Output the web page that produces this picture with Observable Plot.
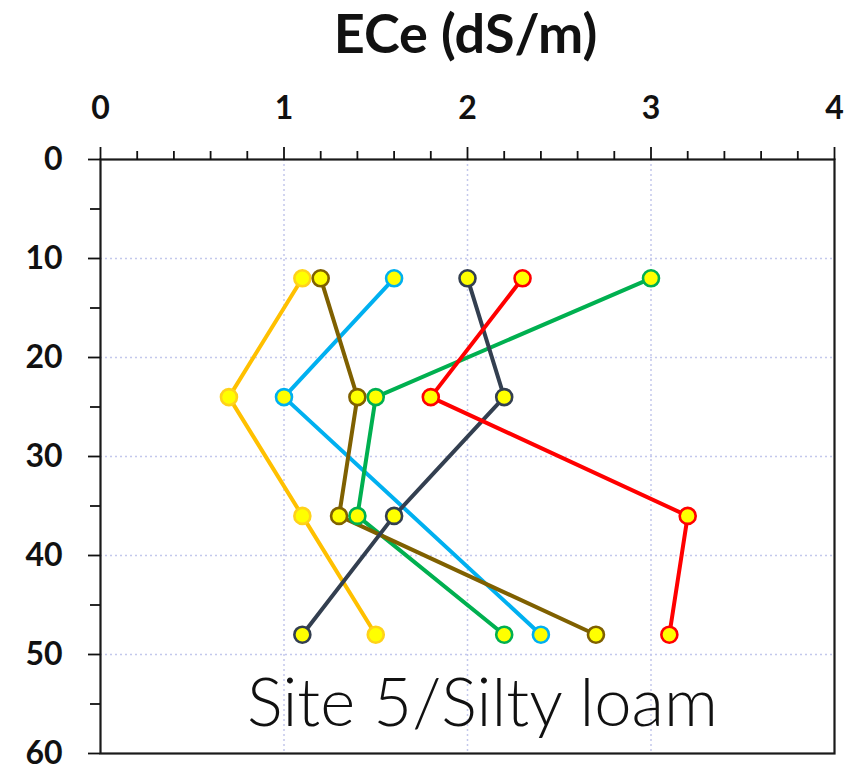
<!DOCTYPE html>
<html>
<head>
<meta charset="utf-8">
<script src="https://cdn.jsdelivr.net/npm/d3@7"></script>
<script src="https://cdn.jsdelivr.net/npm/@observablehq/plot@0.6"></script>
<style>
  html, body { margin: 0; padding: 0; background: #fff; }
  #chart svg { display: block; }
</style>
</head>
<body>
<div id="chart"></div>
<script>
// Depths (cm) at which ECe was sampled
const depths = [12, 24, 36, 48];
// ECe (dS/m) per profile series
const seriesNames = ["yellow", "cyan", "green", "brown", "dark", "red"];
const yellowVals = [1.1, 0.7, 1.1, 1.5];
const cyanVals   = [1.6, 1.0, null, 2.4];
const greenVals  = [3.0, 1.5, 1.4, 2.2];
const brownVals  = [1.2, 1.4, 1.3, 2.7];
const darkVals   = [2.0, 2.2, 1.6, 1.1];
const redVals    = [2.3, 1.8, 3.2, 3.1];
const lineColors = ["#FFC000", "#00B0F0", "#00B050", "#7F6000", "#333F50", "#FF0000"];
const markerStroke = ["#FFD21A", "#00B0F0", "#00B050", "#7F6000", "#333F50", "#FF0000"];
const xTicks = [0, 1, 2, 3, 4];
const yTicks = [0, 10, 20, 30, 40, 50, 60];
const title = "ECe (dS/m)";
const siteLabel = "Site 5/Silty loam";

const allVals = [yellowVals, cyanVals, greenVals, brownVals, darkVals, redVals];
const rows = [];
seriesNames.forEach((s, i) => {
  depths.forEach((d, j) => {
    const v = allVals[i][j];
    if (v != null) rows.push({series: s, idx: i, depth: d, ece: v});
  });
});
const bySeries = i => rows.filter(r => r.idx === i);
const dotOrder = [0, 3, 1, 2, 4, 5];

const xMinor = d3.range(0, 4.0001, 0.2).map(v => +v.toFixed(1)).filter(v => !xTicks.includes(v));
const yMinor = d3.range(5, 60, 10);

const marks = [
  Plot.gridX({ticks: [1, 2, 3], stroke: "#c3c8ec", strokeOpacity: 1, strokeWidth: 1.5, strokeDasharray: "2,3"}),
  Plot.gridY({ticks: [10, 20, 30, 40, 50], stroke: "#c3c8ec", strokeOpacity: 1, strokeWidth: 1.5, strokeDasharray: "2,3"}),
  Plot.frame({stroke: "#1a1a1a", strokeWidth: 2.2}),
  Plot.axisX({anchor: "top", ticks: xMinor, tickSize: 9, text: null, label: null, stroke: "#111", strokeWidth: 1.8}),
  Plot.axisX({anchor: "top", ticks: xTicks, tickSize: 13, tickPadding: 28, tickFormat: d3.format("d"), label: null,
    stroke: "#111", strokeWidth: 1.8, fontSize: 32, fontWeight: "bold", fill: "#111"}),
  Plot.axisY({anchor: "left", ticks: yMinor, tickSize: 10, text: null, label: null, stroke: "#111", strokeWidth: 1.8}),
  Plot.axisY({anchor: "left", ticks: yTicks, tickSize: 12, tickPadding: 26, tickFormat: d3.format("d"), label: null,
    stroke: "#111", strokeWidth: 1.8, fontSize: 32, fontWeight: "bold", fill: "#111"}),
];
seriesNames.forEach((s, i) => {
  marks.push(Plot.line(bySeries(i), {x: "ece", y: "depth", stroke: lineColors[i], strokeWidth: 4}));
});
dotOrder.forEach(i => {
  marks.push(Plot.dot(bySeries(i), {x: "ece", y: "depth", r: 8, fill: "#FFFF00", stroke: markerStroke[i], strokeWidth: 2.6}));
});
marks.push(Plot.text([title], {frameAnchor: "top", text: d => d, dx: -2, dy: -107, fontSize: 54, fontWeight: "bold", fill: "#111", lineAnchor: "bottom"}));
marks.push(Plot.text([siteLabel], {frameAnchor: "bottom", text: d => d, dx: 15, dy: -28, fontSize: 67, fontWeight: 300, fill: "#111", lineAnchor: "bottom"}));

const chart = Plot.plot({
  width: 868,
  height: 767,
  marginTop: 159,
  marginLeft: 100,
  marginRight: 34,
  marginBottom: 14,
  style: {fontFamily: "Lato, sans-serif", background: "#fff", overflow: "visible"},
  x: {domain: [0, 4], axis: null},
  y: {domain: [0, 60], reverse: true, axis: null},
  marks
});
document.getElementById("chart").append(chart);
</script>
</body>
</html>
